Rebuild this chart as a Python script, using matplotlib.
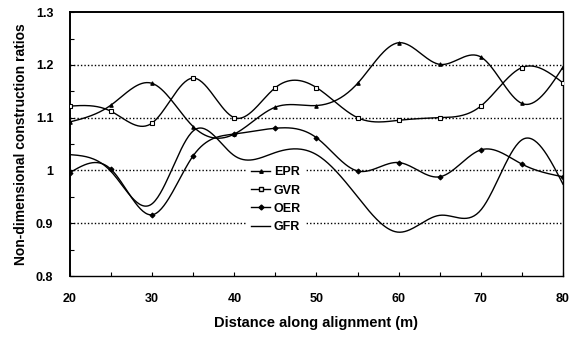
import numpy as np
import matplotlib
matplotlib.use("Agg")
import matplotlib.pyplot as plt
from matplotlib.ticker import MultipleLocator, FixedLocator, FixedFormatter

# distance along alignment (m)
distance = [20, 25, 30, 35, 40, 45, 50, 55, 60, 65, 70, 75, 80]

epr = [1.092, 1.124, 1.165, 1.083, 1.069, 1.120, 1.123, 1.165, 1.242, 1.201, 1.215, 1.127, 1.196]
gvr = [1.122, 1.112, 1.090, 1.175, 1.100, 1.157, 1.157, 1.100, 1.095, 1.100, 1.122, 1.195, 1.166]
oer = [0.996, 1.002, 0.916, 1.028, 1.069, 1.080, 1.062, 0.999, 1.015, 0.988, 1.039, 1.012, 0.988]
gfr = [1.030, 0.998, 0.937, 1.075, 1.028, 1.034, 1.030, 0.950, 0.883, 0.915, 0.925, 1.058, 0.974]

y_ticks = [0.8, 0.9, 1.0, 1.1, 1.2, 1.3]
y_labels = ["0.8", "0.9", "1", "1.1", "1.2", "1.3"]
grid_levels = [0.9, 1.0, 1.1, 1.2]


def natural_spline(x, y, n=400):
    """Natural cubic spline through the points, evaluated on a fine grid."""
    x = np.asarray(x, float)
    y = np.asarray(y, float)
    k = len(x)
    h = np.diff(x)
    A = np.zeros((k, k))
    rhs = np.zeros(k)
    A[0, 0] = A[-1, -1] = 1.0
    for i in range(1, k - 1):
        A[i, i - 1] = h[i - 1]
        A[i, i] = 2 * (h[i - 1] + h[i])
        A[i, i + 1] = h[i]
        rhs[i] = 6 * ((y[i + 1] - y[i]) / h[i] - (y[i] - y[i - 1]) / h[i - 1])
    m = np.linalg.solve(A, rhs)
    xs = np.linspace(x[0], x[-1], n)
    idx = np.clip(np.searchsorted(x, xs) - 1, 0, k - 2)
    t = xs - x[idx]
    hi = h[idx]
    a = (m[idx + 1] - m[idx]) / (6 * hi)
    b = m[idx] / 2
    c = (y[idx + 1] - y[idx]) / hi - hi * (2 * m[idx] + m[idx + 1]) / 6
    ys = y[idx] + c * t + b * t ** 2 + a * t ** 3
    return xs, ys


plt.rcParams["font.family"] = ["Liberation Sans", "DejaVu Sans"]

fig = plt.figure(figsize=(5.81, 3.37), dpi=100)
ax = fig.add_axes([0.1205, 0.181, 0.8485, 0.783])

for lvl in grid_levels:
    ax.axhline(lvl, color="black", linestyle=(0, (1, 1.5)), linewidth=1.0, zorder=1)

series = [
    ("EPR", epr, dict(marker="^", markersize=2.5, markerfacecolor="black")),
    ("GVR", gvr, dict(marker="s", markersize=3, markerfacecolor="white")),
    ("OER", oer, dict(marker="D", markersize=2.5, markerfacecolor="black")),
    ("GFR", gfr, dict(marker=None)),
]

for name, vals, style in series:
    xs, ys = natural_spline(distance, vals)
    ax.plot(xs, ys, color="black", linewidth=1.0, zorder=3)
    if style["marker"]:
        ax.plot(distance, vals, linestyle="none", color="black",
                markeredgewidth=0.8, zorder=4, **style)
    # proxy artist for the legend
    ax.plot([], [], color="black", linewidth=1.0, label=name, **style)

ax.set_xlim(20, 80)
ax.set_ylim(0.8, 1.3)
ax.xaxis.set_major_locator(MultipleLocator(10))
ax.xaxis.set_minor_locator(MultipleLocator(5))
ax.yaxis.set_major_locator(FixedLocator(y_ticks))
ax.yaxis.set_major_formatter(FixedFormatter(y_labels))
ax.yaxis.set_minor_locator(MultipleLocator(0.05))
ax.tick_params(which="both", direction="in", length=3, width=0.8, labelsize=9)
ax.tick_params(axis="y", pad=12)
ax.tick_params(axis="x", pad=12)
for lab in ax.get_xticklabels() + ax.get_yticklabels():
    lab.set_fontweight("bold")

for side in ["left", "top"]:
    ax.spines[side].set_linewidth(1.4)
for side in ["right", "bottom"]:
    ax.spines[side].set_linewidth(1.0)

ax.set_xlabel("Distance along alignment (m)", fontsize=10.5, fontweight="bold", labelpad=8)
ax.set_ylabel("Non-dimensional construction ratios", fontsize=10, fontweight="bold", labelpad=6)

leg = ax.legend(loc="upper left", bbox_to_anchor=(0.36, 0.43), frameon=True,
                fancybox=False, edgecolor="white", facecolor="white", framealpha=1,
                fontsize=9, handlelength=1.5, handletextpad=0.3, labelspacing=0.5,
                borderpad=0.3, borderaxespad=0)
leg.set_zorder(2)
for t in leg.get_texts():
    t.set_fontweight("bold")

fig.savefig("out.png", dpi=100)
